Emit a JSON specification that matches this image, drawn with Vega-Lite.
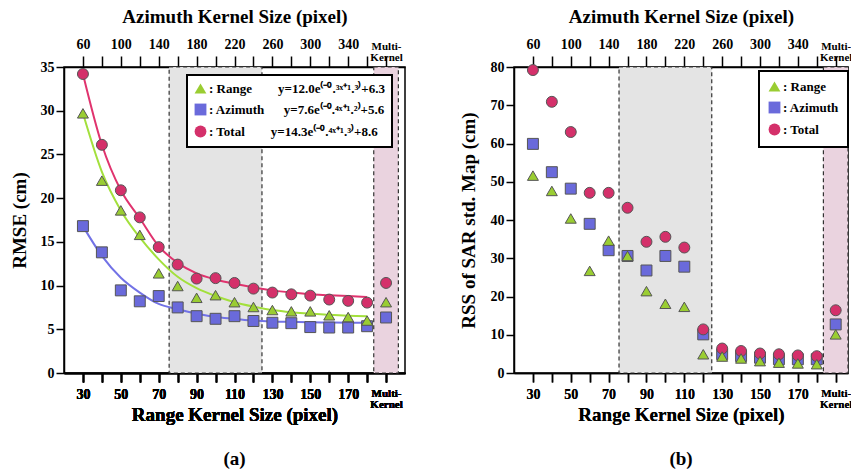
{
  "$schema": "https://vega.github.io/schema/vega-lite/v6.json",
  "background": "white",
  "padding": {"left": 9, "top": 6, "right": 0, "bottom": 0},
  "spacing": 52,
  "resolve": {
    "scale": {"fill": "independent", "shape": "independent"},
    "legend": {"fill": "independent", "shape": "independent"}
  },
  "config": {
    "font": "Liberation Serif",
    "view": {"stroke": "black", "strokeWidth": 1.5},
    "axis": {
      "labelFont": "Liberation Serif", "labelFontWeight": "bold", "labelFontSize": 14, "labelColor": "black",
      "titleFont": "Liberation Serif", "titleFontWeight": "bold", "titleFontSize": 19, "titleColor": "black",
      "domainColor": "black", "domainWidth": 1.5, "tickColor": "black", "tickWidth": 1.5, "tickSize": 9,
      "grid": false, "labelOverlap": false, "labelFlush": false
    },
    "legend": {
      "labelFont": "Liberation Serif", "labelFontWeight": "bold", "labelFontSize": 13, "labelColor": "black",
      "symbolStrokeColor": "#555555", "symbolStrokeWidth": 1, "symbolSize": 140, "labelLimit": 400,
      "strokeColor": "black", "strokeWidth": 2, "fillColor": "white", "padding": 7, "rowPadding": 5, "labelOffset": 2
    },
    "title": {"font": "Liberation Serif", "fontWeight": "bold", "fontSize": 19, "color": "black"}
  },
  "datasets": {
    "pointsA": [
      {"kernel": 30, "series": "Azimuth", "value": 16.8}, {"kernel": 40, "series": "Azimuth", "value": 13.8},
      {"kernel": 50, "series": "Azimuth", "value": 9.45}, {"kernel": 60, "series": "Azimuth", "value": 8.2},
      {"kernel": 70, "series": "Azimuth", "value": 8.8}, {"kernel": 80, "series": "Azimuth", "value": 7.5},
      {"kernel": 90, "series": "Azimuth", "value": 6.5}, {"kernel": 100, "series": "Azimuth", "value": 6.2},
      {"kernel": 110, "series": "Azimuth", "value": 6.5}, {"kernel": 120, "series": "Azimuth", "value": 5.95},
      {"kernel": 130, "series": "Azimuth", "value": 5.75}, {"kernel": 140, "series": "Azimuth", "value": 5.7},
      {"kernel": 150, "series": "Azimuth", "value": 5.25}, {"kernel": 160, "series": "Azimuth", "value": 5.2},
      {"kernel": 170, "series": "Azimuth", "value": 5.2}, {"kernel": 180, "series": "Azimuth", "value": 5.35},
      {"kernel": 190, "series": "Azimuth", "value": 6.35},
      {"kernel": 30, "series": "Total", "value": 34.2}, {"kernel": 40, "series": "Total", "value": 26.1},
      {"kernel": 50, "series": "Total", "value": 20.9}, {"kernel": 60, "series": "Total", "value": 17.8},
      {"kernel": 70, "series": "Total", "value": 14.4}, {"kernel": 80, "series": "Total", "value": 12.4},
      {"kernel": 90, "series": "Total", "value": 10.8}, {"kernel": 100, "series": "Total", "value": 10.85},
      {"kernel": 110, "series": "Total", "value": 10.3}, {"kernel": 120, "series": "Total", "value": 9.65},
      {"kernel": 130, "series": "Total", "value": 9.2}, {"kernel": 140, "series": "Total", "value": 9.0},
      {"kernel": 150, "series": "Total", "value": 8.85}, {"kernel": 160, "series": "Total", "value": 8.4},
      {"kernel": 170, "series": "Total", "value": 8.25}, {"kernel": 180, "series": "Total", "value": 8.05},
      {"kernel": 190, "series": "Total", "value": 10.3},
      {"kernel": 30, "series": "Range", "value": 29.7}, {"kernel": 40, "series": "Range", "value": 22.0},
      {"kernel": 50, "series": "Range", "value": 18.6}, {"kernel": 60, "series": "Range", "value": 15.8},
      {"kernel": 70, "series": "Range", "value": 11.4}, {"kernel": 80, "series": "Range", "value": 9.95},
      {"kernel": 90, "series": "Range", "value": 8.6}, {"kernel": 100, "series": "Range", "value": 8.9},
      {"kernel": 110, "series": "Range", "value": 8.1}, {"kernel": 120, "series": "Range", "value": 7.55},
      {"kernel": 130, "series": "Range", "value": 7.2}, {"kernel": 140, "series": "Range", "value": 7.05},
      {"kernel": 150, "series": "Range", "value": 7.05}, {"kernel": 160, "series": "Range", "value": 6.6},
      {"kernel": 170, "series": "Range", "value": 6.4}, {"kernel": 180, "series": "Range", "value": 6.0},
      {"kernel": 190, "series": "Range", "value": 8.1}
    ],
    "curvesA": [
      {"kernel": 30, "curve": "Range", "fit": 29.7}, {"kernel": 40, "curve": "Range", "fit": 23.0},
      {"kernel": 50, "curve": "Range", "fit": 18.6}, {"kernel": 60, "curve": "Range", "fit": 15.5},
      {"kernel": 70, "curve": "Range", "fit": 13.0}, {"kernel": 80, "curve": "Range", "fit": 11.0},
      {"kernel": 90, "curve": "Range", "fit": 9.7}, {"kernel": 100, "curve": "Range", "fit": 8.8},
      {"kernel": 110, "curve": "Range", "fit": 8.1}, {"kernel": 120, "curve": "Range", "fit": 7.6},
      {"kernel": 130, "curve": "Range", "fit": 7.2}, {"kernel": 140, "curve": "Range", "fit": 6.95},
      {"kernel": 150, "curve": "Range", "fit": 6.8}, {"kernel": 160, "curve": "Range", "fit": 6.65},
      {"kernel": 170, "curve": "Range", "fit": 6.55}, {"kernel": 180, "curve": "Range", "fit": 6.5},
      {"kernel": 30, "curve": "Azimuth", "fit": 16.8}, {"kernel": 40, "curve": "Azimuth", "fit": 13.4},
      {"kernel": 50, "curve": "Azimuth", "fit": 10.9}, {"kernel": 60, "curve": "Azimuth", "fit": 9.2},
      {"kernel": 70, "curve": "Azimuth", "fit": 7.9}, {"kernel": 80, "curve": "Azimuth", "fit": 7.3},
      {"kernel": 90, "curve": "Azimuth", "fit": 6.8}, {"kernel": 100, "curve": "Azimuth", "fit": 6.4},
      {"kernel": 110, "curve": "Azimuth", "fit": 6.2}, {"kernel": 120, "curve": "Azimuth", "fit": 6.0},
      {"kernel": 130, "curve": "Azimuth", "fit": 5.9}, {"kernel": 140, "curve": "Azimuth", "fit": 5.85},
      {"kernel": 150, "curve": "Azimuth", "fit": 5.8}, {"kernel": 160, "curve": "Azimuth", "fit": 5.77},
      {"kernel": 170, "curve": "Azimuth", "fit": 5.75}, {"kernel": 180, "curve": "Azimuth", "fit": 5.75},
      {"kernel": 30, "curve": "Total", "fit": 34.2}, {"kernel": 40, "curve": "Total", "fit": 26.1},
      {"kernel": 50, "curve": "Total", "fit": 20.9}, {"kernel": 60, "curve": "Total", "fit": 17.7},
      {"kernel": 70, "curve": "Total", "fit": 14.5}, {"kernel": 80, "curve": "Total", "fit": 12.6},
      {"kernel": 90, "curve": "Total", "fit": 11.4}, {"kernel": 100, "curve": "Total", "fit": 10.7},
      {"kernel": 110, "curve": "Total", "fit": 10.2}, {"kernel": 120, "curve": "Total", "fit": 9.8},
      {"kernel": 130, "curve": "Total", "fit": 9.45}, {"kernel": 140, "curve": "Total", "fit": 9.2},
      {"kernel": 150, "curve": "Total", "fit": 9.0}, {"kernel": 160, "curve": "Total", "fit": 8.9},
      {"kernel": 170, "curve": "Total", "fit": 8.8}, {"kernel": 180, "curve": "Total", "fit": 8.7}
    ],
    "pointsB": [
      {"kernel": 30, "series": "Azimuth", "value": 59.9}, {"kernel": 40, "series": "Azimuth", "value": 52.5},
      {"kernel": 50, "series": "Azimuth", "value": 48.2}, {"kernel": 60, "series": "Azimuth", "value": 39.0},
      {"kernel": 70, "series": "Azimuth", "value": 32.1}, {"kernel": 80, "series": "Azimuth", "value": 30.6},
      {"kernel": 90, "series": "Azimuth", "value": 26.8}, {"kernel": 100, "series": "Azimuth", "value": 30.6},
      {"kernel": 110, "series": "Azimuth", "value": 27.8}, {"kernel": 120, "series": "Azimuth", "value": 10.1},
      {"kernel": 130, "series": "Azimuth", "value": 4.9}, {"kernel": 140, "series": "Azimuth", "value": 4.4},
      {"kernel": 150, "series": "Azimuth", "value": 4.0}, {"kernel": 160, "series": "Azimuth", "value": 3.6},
      {"kernel": 170, "series": "Azimuth", "value": 3.6}, {"kernel": 180, "series": "Azimuth", "value": 3.6},
      {"kernel": 190, "series": "Azimuth", "value": 12.7},
      {"kernel": 30, "series": "Total", "value": 79.2}, {"kernel": 40, "series": "Total", "value": 70.9},
      {"kernel": 50, "series": "Total", "value": 63.0}, {"kernel": 60, "series": "Total", "value": 47.1},
      {"kernel": 70, "series": "Total", "value": 47.1}, {"kernel": 80, "series": "Total", "value": 43.2},
      {"kernel": 90, "series": "Total", "value": 34.3}, {"kernel": 100, "series": "Total", "value": 35.6},
      {"kernel": 110, "series": "Total", "value": 32.8}, {"kernel": 120, "series": "Total", "value": 11.4},
      {"kernel": 130, "series": "Total", "value": 6.4}, {"kernel": 140, "series": "Total", "value": 5.75},
      {"kernel": 150, "series": "Total", "value": 5.1}, {"kernel": 160, "series": "Total", "value": 4.9},
      {"kernel": 170, "series": "Total", "value": 4.6}, {"kernel": 180, "series": "Total", "value": 4.4},
      {"kernel": 190, "series": "Total", "value": 16.4},
      {"kernel": 30, "series": "Range", "value": 51.6}, {"kernel": 40, "series": "Range", "value": 47.6},
      {"kernel": 50, "series": "Range", "value": 40.4}, {"kernel": 60, "series": "Range", "value": 26.7},
      {"kernel": 70, "series": "Range", "value": 34.6}, {"kernel": 80, "series": "Range", "value": 30.6},
      {"kernel": 90, "series": "Range", "value": 21.4}, {"kernel": 100, "series": "Range", "value": 18.1},
      {"kernel": 110, "series": "Range", "value": 17.3}, {"kernel": 120, "series": "Range", "value": 4.9},
      {"kernel": 130, "series": "Range", "value": 4.3}, {"kernel": 140, "series": "Range", "value": 3.8},
      {"kernel": 150, "series": "Range", "value": 3.1}, {"kernel": 160, "series": "Range", "value": 2.7},
      {"kernel": 170, "series": "Range", "value": 2.5}, {"kernel": 180, "series": "Range", "value": 2.3},
      {"kernel": 190, "series": "Range", "value": 10.1}
    ],
    "grayBand": [{"start": 75.5, "end": 124.5}],
    "pinkBand": [{"start": 183.5, "end": 196.5}]
  },
  "hconcat": [
    {
      "width": 341, "height": 306,
      "title": {"text": "(a)", "orient": "bottom", "offset": 26},
      "layer": [
        {
          "data": {"name": "grayBand"},
          "mark": {"type": "rect", "fill": "#e4e4e4", "stroke": "#333333", "strokeWidth": 1.2, "strokeDash": [4, 3]},
          "encoding": {
            "x": {"field": "start", "type": "quantitative", "scale": {"domain": [20, 200], "nice": false, "zero": false},
              "axis": {"orient": "bottom", "title": "Range Kernel Size (pixel)", "titlePadding": -4, "labelPadding": 5,
                "values": [30, 40, 50, 60, 70, 80, 90, 100, 110, 120, 130, 140, 150, 160, 170, 180, 190],
                "labelExpr": "datum.value == 190 ? ['Multi-', 'Kernel'] : ((datum.value - 30) % 20 == 0 ? datum.label : '')",
                "labelFontSize": {"condition": {"test": "datum.value == 190", "value": 11}, "value": 14},
                "labelLineHeight": 11}},
            "x2": {"field": "end"}
          }
        },
        {
          "data": {"name": "pinkBand"},
          "mark": {"type": "rect", "fill": "#ead3df", "stroke": "#333333", "strokeWidth": 1.2, "strokeDash": [4, 3]},
          "encoding": {
            "x": {"field": "start", "type": "quantitative",
              "axis": {"orient": "top", "title": "Azimuth Kernel Size (pixel)", "titlePadding": 11, "labelPadding": 5, "tickSize": 11,
                "values": [30, 40, 50, 60, 70, 80, 90, 100, 110, 120, 130, 140, 150, 160, 170, 180, 190],
                "labelExpr": "datum.value == 190 ? ['Multi-', 'Kernel'] : ((datum.value - 30) % 20 == 0 ? format(datum.value * 2, 'd') : '')",
                "labelFontSize": {"condition": {"test": "datum.value == 190", "value": 11}, "value": 14},
                "labelLineHeight": 11}},
            "x2": {"field": "end"}
          }
        },
        {
          "data": {"name": "curvesA"},
          "transform": [{"filter": "datum.curve == 'Range'"}],
          "mark": {"type": "line", "interpolate": "monotone", "strokeWidth": 2, "color": "#a3e03c"},
          "encoding": {
            "x": {"field": "kernel", "type": "quantitative",
              "axis": {"orient": "bottom", "title": "Range Kernel Size (pixel)", "titlePadding": -4, "labelPadding": 5,
                "values": [30, 40, 50, 60, 70, 80, 90, 100, 110, 120, 130, 140, 150, 160, 170, 180, 190],
                "labelExpr": "datum.value == 190 ? ['Multi-', 'Kernel'] : ((datum.value - 30) % 20 == 0 ? datum.label : '')",
                "labelFontSize": {"condition": {"test": "datum.value == 190", "value": 11}, "value": 14},
                "labelLineHeight": 11}},
            "y": {"field": "fit", "type": "quantitative", "scale": {"domain": [0, 35], "nice": false},
              "axis": {"title": "RMSE (cm)", "values": [0, 5, 10, 15, 20, 25, 30, 35], "tickSize": 8, "titlePadding": 11}}
          }
        },
        {
          "data": {"name": "curvesA"},
          "transform": [{"filter": "datum.curve == 'Azimuth'"}],
          "mark": {"type": "line", "interpolate": "monotone", "strokeWidth": 2, "color": "#7272e6"},
          "encoding": {
            "x": {"field": "kernel", "type": "quantitative",
              "axis": {"orient": "bottom", "title": "Range Kernel Size (pixel)", "titlePadding": -4, "labelPadding": 5,
                "values": [30, 40, 50, 60, 70, 80, 90, 100, 110, 120, 130, 140, 150, 160, 170, 180, 190],
                "labelExpr": "datum.value == 190 ? ['Multi-', 'Kernel'] : ((datum.value - 30) % 20 == 0 ? datum.label : '')",
                "labelFontSize": {"condition": {"test": "datum.value == 190", "value": 11}, "value": 14},
                "labelLineHeight": 11}},
            "y": {"field": "fit", "type": "quantitative",
              "axis": {"title": "RMSE (cm)", "values": [0, 5, 10, 15, 20, 25, 30, 35], "tickSize": 8, "titlePadding": 11}}
          }
        },
        {
          "data": {"name": "curvesA"},
          "transform": [{"filter": "datum.curve == 'Total'"}],
          "mark": {"type": "line", "interpolate": "monotone", "strokeWidth": 2, "color": "#e0336e"},
          "encoding": {
            "x": {"field": "kernel", "type": "quantitative",
              "axis": {"orient": "bottom", "title": "Range Kernel Size (pixel)", "titlePadding": -4, "labelPadding": 5,
                "values": [30, 40, 50, 60, 70, 80, 90, 100, 110, 120, 130, 140, 150, 160, 170, 180, 190],
                "labelExpr": "datum.value == 190 ? ['Multi-', 'Kernel'] : ((datum.value - 30) % 20 == 0 ? datum.label : '')",
                "labelFontSize": {"condition": {"test": "datum.value == 190", "value": 11}, "value": 14},
                "labelLineHeight": 11}},
            "y": {"field": "fit", "type": "quantitative",
              "axis": {"title": "RMSE (cm)", "values": [0, 5, 10, 15, 20, 25, 30, 35], "tickSize": 8, "titlePadding": 11}}
          }
        },
        {
          "data": {"name": "pointsA"},
          "mark": {"type": "point", "filled": true, "size": 120, "stroke": "#555555", "strokeWidth": 1, "opacity": 1},
          "encoding": {
            "x": {"field": "kernel", "type": "quantitative",
              "axis": {"orient": "bottom", "title": "Range Kernel Size (pixel)", "titlePadding": -4, "labelPadding": 5,
                "values": [30, 40, 50, 60, 70, 80, 90, 100, 110, 120, 130, 140, 150, 160, 170, 180, 190],
                "labelExpr": "datum.value == 190 ? ['Multi-', 'Kernel'] : ((datum.value - 30) % 20 == 0 ? datum.label : '')",
                "labelFontSize": {"condition": {"test": "datum.value == 190", "value": 11}, "value": 14},
                "labelLineHeight": 11}},
            "y": {"field": "value", "type": "quantitative", "axis": {"title": "RMSE (cm)", "values": [0, 5, 10, 15, 20, 25, 30, 35], "tickSize": 8, "titlePadding": 11}},
            "fill": {"field": "series", "type": "nominal",
              "scale": {"domain": ["Range", "Azimuth", "Total"], "range": ["#9acd32", "#6a6adb", "#d4306a"]},
              "legend": {"title": null, "orient": "none", "legendX": 123, "legendY": 8, "direction": "vertical", "columns": 1, "strokeColor": "black", "fillColor": "white",
                "labelExpr": "datum.label == 'Range' ? ': Range\u2003\u2003y=12.0e⁽⁻⁰.³ˣ⁺¹.³⁾+6.3\u2003\u2002' : (datum.label == 'Azimuth' ? ': Azimuth\u2003\u2002y=7.6e⁽⁻⁰.⁴ˣ⁺¹.²⁾+5.6\u2003\u2002' : ': Total\u2003\u2003y=14.3e⁽⁻⁰.⁴ˣ⁺¹.³⁾+8.6\u2003\u2002')"}},
            "shape": {"field": "series", "type": "nominal",
              "scale": {"domain": ["Range", "Azimuth", "Total"], "range": ["triangle-up", "square", "circle"]},
              "legend": {"title": null, "orient": "none", "legendX": 123, "legendY": 8, "direction": "vertical", "columns": 1, "strokeColor": "black", "fillColor": "white",
                "labelExpr": "datum.label == 'Range' ? ': Range\u2003\u2003y=12.0e⁽⁻⁰.³ˣ⁺¹.³⁾+6.3\u2003\u2002' : (datum.label == 'Azimuth' ? ': Azimuth\u2003\u2002y=7.6e⁽⁻⁰.⁴ˣ⁺¹.²⁾+5.6\u2003\u2002' : ': Total\u2003\u2003y=14.3e⁽⁻⁰.⁴ˣ⁺¹.³⁾+8.6\u2003\u2002')"}}
          }
        }
      ]
    },
    {
      "width": 334, "height": 306,
      "title": {"text": "(b)", "orient": "bottom", "offset": 26},
      "layer": [
        {
          "data": {"name": "grayBand"},
          "mark": {"type": "rect", "fill": "#e4e4e4", "stroke": "#333333", "strokeWidth": 1.2, "strokeDash": [4, 3]},
          "encoding": {
            "x": {"field": "start", "type": "quantitative", "scale": {"domain": [20, 196.5], "nice": false, "zero": false},
              "axis": {"orient": "bottom", "title": "Range Kernel Size (pixel)", "titlePadding": -4, "labelPadding": 5,
                "values": [30, 40, 50, 60, 70, 80, 90, 100, 110, 120, 130, 140, 150, 160, 170, 180, 190],
                "labelExpr": "datum.value == 190 ? ['Multi-', 'Kernel'] : ((datum.value - 30) % 20 == 0 ? datum.label : '')",
                "labelFontSize": {"condition": {"test": "datum.value == 190", "value": 11}, "value": 14},
                "labelLineHeight": 11}},
            "x2": {"field": "end"}
          }
        },
        {
          "data": {"name": "pinkBand"},
          "mark": {"type": "rect", "fill": "#ead3df", "stroke": "#333333", "strokeWidth": 1.2, "strokeDash": [4, 3]},
          "encoding": {
            "x": {"field": "start", "type": "quantitative",
              "axis": {"orient": "top", "title": "Azimuth Kernel Size (pixel)", "titlePadding": 11, "labelPadding": 5, "tickSize": 11,
                "values": [30, 40, 50, 60, 70, 80, 90, 100, 110, 120, 130, 140, 150, 160, 170, 180, 190],
                "labelExpr": "datum.value == 190 ? ['Multi-', 'Kernel'] : ((datum.value - 30) % 20 == 0 ? format(datum.value * 2, 'd') : '')",
                "labelFontSize": {"condition": {"test": "datum.value == 190", "value": 11}, "value": 14},
                "labelLineHeight": 11}},
            "x2": {"field": "end"}
          }
        },
        {
          "data": {"name": "pointsB"},
          "mark": {"type": "point", "filled": true, "size": 120, "stroke": "#555555", "strokeWidth": 1, "opacity": 1},
          "encoding": {
            "x": {"field": "kernel", "type": "quantitative",
              "axis": {"orient": "bottom", "title": "Range Kernel Size (pixel)", "titlePadding": -4, "labelPadding": 5,
                "values": [30, 40, 50, 60, 70, 80, 90, 100, 110, 120, 130, 140, 150, 160, 170, 180, 190],
                "labelExpr": "datum.value == 190 ? ['Multi-', 'Kernel'] : ((datum.value - 30) % 20 == 0 ? datum.label : '')",
                "labelFontSize": {"condition": {"test": "datum.value == 190", "value": 11}, "value": 14},
                "labelLineHeight": 11}},
            "y": {"field": "value", "type": "quantitative", "scale": {"domain": [0, 80], "nice": false},
              "axis": {"title": "RSS of SAR std. Map (cm)", "values": [0, 10, 20, 30, 40, 50, 60, 70, 80], "tickSize": 8, "titlePadding": 12}},
            "fill": {"field": "series", "type": "nominal",
              "scale": {"domain": ["Range", "Azimuth", "Total"], "range": ["#9acd32", "#6a6adb", "#d4306a"]},
              "legend": {"title": null, "orient": "none", "legendX": 245, "legendY": 4, "padding": 9, "direction": "vertical", "columns": 1, "strokeColor": "black", "fillColor": "white",
                "labelExpr": "': ' + datum.label"}},
            "shape": {"field": "series", "type": "nominal",
              "scale": {"domain": ["Range", "Azimuth", "Total"], "range": ["triangle-up", "square", "circle"]},
              "legend": {"title": null, "orient": "none", "legendX": 245, "legendY": 4, "padding": 9, "direction": "vertical", "columns": 1, "strokeColor": "black", "fillColor": "white",
                "labelExpr": "': ' + datum.label"}}
          }
        }
      ]
    }
  ]
}
